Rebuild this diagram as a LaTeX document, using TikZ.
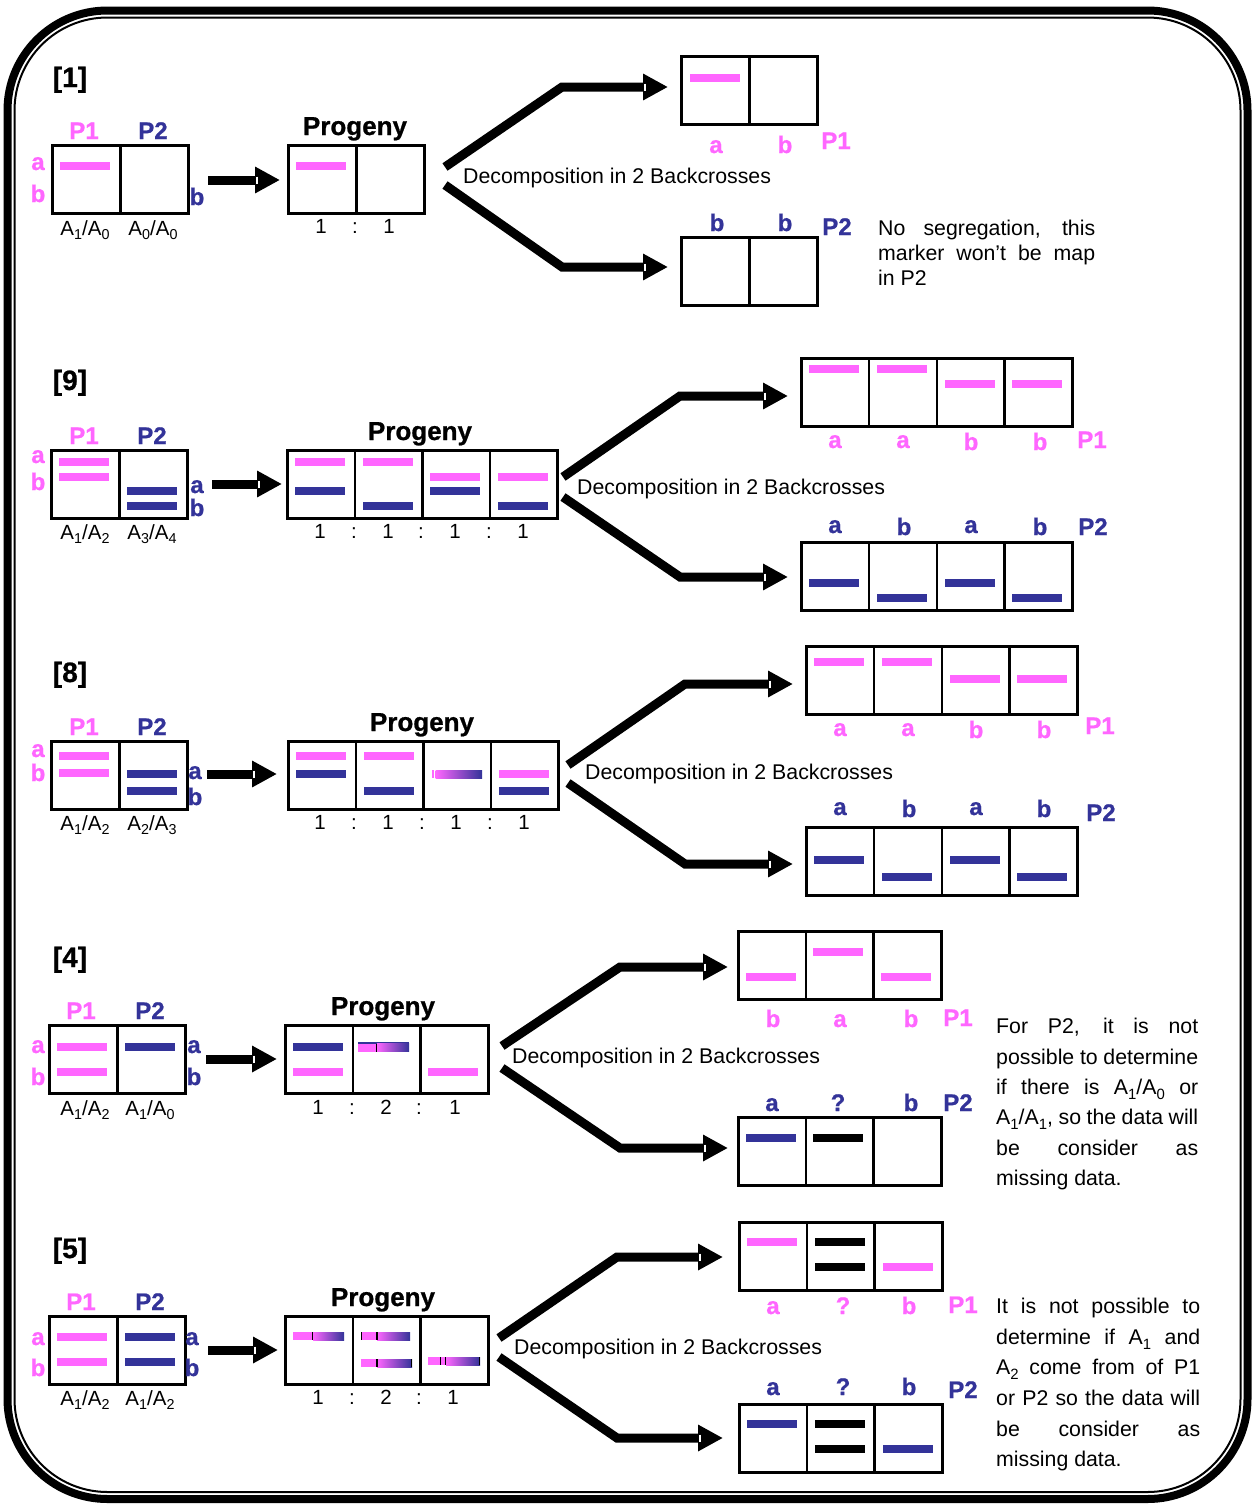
\documentclass[tikz,border=0pt]{standalone}
\usepackage{fontspec}
\setmainfont{Liberation Sans}[BoldFeatures={FakeBold=0.8}]
\usetikzlibrary{arrows.meta,calc}
\definecolor{mkpink}{RGB}{255,102,255}
\definecolor{mkblue}{RGB}{51,51,153}

\tikzset{
  cell/.style={draw, line width=2.6pt, minimum height=68pt, inner sep=0pt, anchor=north west},
  band/.style={line width=8pt},
  lbl/.style={font=\fontsize{24}{28}\selectfont\bfseries, anchor=base, inner sep=0pt},
  plbl/.style={lbl, text=mkpink},
  blbl/.style={lbl, text=mkblue},
  hdr/.style={font=\fontsize{28}{32}\selectfont\bfseries, anchor=base, inner sep=0pt},
  prg/.style={font=\fontsize{26}{30}\selectfont\bfseries, anchor=base, inner sep=0pt},
  gen/.style={font=\fontsize{20.5}{24}\selectfont, anchor=base, inner sep=0pt},
  txt/.style={font=\fontsize{21.3}{25}\selectfont, anchor=base west, inner sep=0pt},
  fat/.style={line width=9pt, -{Triangle[length=25pt,width=25pt]}},
}

% allele index set low, as in A1/A0
\newcommand\sbx[1]{\raisebox{-0.24em}{\fontsize{0.7em}{0.8em}\selectfont #1}}
% a row of n square cells: name, left x, top y, n, cell width
\newcommand\rowcells[5]{%
  \foreach \k in {1,...,#4}{\node[cell, minimum width=#5pt] (#1-\k) at ({#2+(\k-1)*#5},#3) {};}}
% marker band: colour, centre x, y
\newcommand\mbar[3]{\draw[band,#1] ({#2-25},#3) -- ({#2+25},#3);}
% graded band from pink to blue: left x, right x, y
\newcommand\gbar[3]{\shade[left color=mkpink, right color=mkblue] ({#1},{#3-4}) rectangle ({#2},{#3+4});}
% solid pink piece of a band: left x, right x, y
\newcommand\pbar[3]{\fill[mkpink] ({#1},{#3-4}) rectangle ({#2},{#3+4});}
% thin separator tick inside a band
\newcommand\btick[2]{\draw[line width=1.2pt] ({#1},{#2-4}) -- ({#1},{#2+4});}
% small light notch at the base of an arrow head: tip x, y
\newcommand\notch[2]{\draw[white, line width=1.4pt] ({#1-23},{#2-3.5}) -- ({#1-23},{#2+3.5});}

\begin{document}
\begin{tikzpicture}[x=1pt,y=-1pt]
\useasboundingbox (0,0) rectangle (1257,1510);
\fill[white] (0,0) rectangle (1257,1510);

% double rounded frame
\draw[line width=8pt, rounded corners=100pt] (7.5,10.5) rectangle (1247.5,1499);
\draw[line width=2pt, rounded corners=93pt] (14.5,17.5) rectangle (1240.5,1492);

% ===================== [1] =====================
\node[hdr] (h1) at (70,87) {[1]};
\rowcells{pa}{51}{144}{2}{68}
\node[plbl] (pa-l1) at (84,139) {P1};
\node[blbl] (pa-l2) at (153,139) {P2};
\node[plbl] (pa-a) at (38,170) {a};
\node[plbl] (pa-b) at (38,202) {b};
\node[blbl] (pa-b2) at (197,205) {b};
\mbar{mkpink}{85}{166}
\node[gen] (pa-g1) at (85,235) {A\sbx{1}/A\sbx{0}};
\node[gen] (pa-g2) at (153,235) {A\sbx{0}/A\sbx{0}};

\coordinate (ma-s) at (208,180); \coordinate (ma-t) at (280,180);
\draw[fat] (ma-s) -- (ma-t); \notch{280}{180}

\node[prg] (pra-t) at (355,135) {Progeny};
\rowcells{pra}{287}{144}{2}{68}
\mbar{mkpink}{321}{166}
\node[gen] (pra-r1) at (321,233) {1};
\node[gen] (pra-r2) at (355,233) {:};
\node[gen] (pra-r3) at (389,233) {1};

\rowcells{bua}{680}{55}{2}{68}
\rowcells{bda}{680}{236}{2}{68}
\mbar{mkpink}{715}{78}
\coordinate (ua-s) at (445,167); \coordinate (ua-c) at (562,87); \coordinate (ua-t) at (668,87);
\coordinate (da-s) at (445,185); \coordinate (da-c) at (562,267); \coordinate (da-t) at (668,267);
\draw[fat] (ua-s) -- (ua-c) -- (ua-t); \notch{668}{87}
\draw[fat] (da-s) -- (da-c) -- (da-t); \notch{668}{267}
\node[txt] (dca) at (463,183) {Decomposition in 2 Backcrosses};
\node[plbl] (bua-1) at (716,153) {a};
\node[plbl] (bua-2) at (785,153) {b};
\node[plbl] (bua-p) at (836,149) {P1};
\node[blbl] (bda-1) at (717,231) {b};
\node[blbl] (bda-2) at (785,231) {b};
\node[blbl] (bda-p) at (837,235) {P2};
\node[txt] (na-1) at (878,235) {\makebox[217pt][s]{No segregation, this}};
\node[txt] (na-2) at (878,260) {\makebox[217pt][s]{marker won’t be map}};
\node[txt] (na-3) at (878,285) {in P2};

% ===================== [9] =====================
\node[hdr] (h9) at (70,390) {[9]};
\rowcells{pb}{50}{449}{2}{68}
\node[plbl] (pb-l1) at (84,444) {P1};
\node[blbl] (pb-l2) at (152,444) {P2};
\node[plbl] (pb-a) at (38,463) {a};
\node[plbl] (pb-b) at (38,490) {b};
\node[blbl] (pb-a2) at (197,493) {a};
\node[blbl] (pb-b2) at (197,516) {b};
\mbar{mkpink}{84}{462} \mbar{mkpink}{84}{477}
\mbar{mkblue}{152}{491} \mbar{mkblue}{152}{506}
\node[gen] (pb-g1) at (85,539) {A\sbx{1}/A\sbx{2}};
\node[gen] (pb-g2) at (152,539) {A\sbx{3}/A\sbx{4}};

\coordinate (mb-s) at (212,484); \coordinate (mb-t) at (282,484);
\draw[fat] (mb-s) -- (mb-t); \notch{282}{484}

\node[prg] (prb-t) at (420,440) {Progeny};
\rowcells{prb}{286}{449}{4}{67.6}
\mbar{mkpink}{320}{462} \mbar{mkblue}{320}{491}
\mbar{mkpink}{388}{462} \mbar{mkblue}{388}{506}
\mbar{mkpink}{455}{477} \mbar{mkblue}{455}{491}
\mbar{mkpink}{523}{477} \mbar{mkblue}{523}{506}
\node[gen] (prb-r1) at (320,538) {1};
\node[gen] (prb-r2) at (354,538) {:};
\node[gen] (prb-r3) at (388,538) {1};
\node[gen] (prb-r4) at (421,538) {:};
\node[gen] (prb-r5) at (455,538) {1};
\node[gen] (prb-r6) at (489,538) {:};
\node[gen] (prb-r7) at (523,538) {1};

\rowcells{bub}{800}{357}{4}{67.8}
\rowcells{bdb}{800}{541}{4}{67.8}
\mbar{mkpink}{834}{369} \mbar{mkpink}{902}{369} \mbar{mkpink}{970}{384} \mbar{mkpink}{1037}{384}
\mbar{mkblue}{834}{583} \mbar{mkblue}{902}{598} \mbar{mkblue}{970}{583} \mbar{mkblue}{1037}{598}
\coordinate (ub-s) at (563,477); \coordinate (ub-c) at (680,396); \coordinate (ub-t) at (788,396);
\coordinate (db-s) at (563,497); \coordinate (db-c) at (680,577); \coordinate (db-t) at (788,577);
\draw[fat] (ub-s) -- (ub-c) -- (ub-t); \notch{788}{396}
\draw[fat] (db-s) -- (db-c) -- (db-t); \notch{788}{577}
\node[txt] (dcb) at (577,494) {Decomposition in 2 Backcrosses};
\node[plbl] (bub-1) at (835,448) {a};
\node[plbl] (bub-2) at (903,448) {a};
\node[plbl] (bub-3) at (971,450) {b};
\node[plbl] (bub-4) at (1040,450) {b};
\node[plbl] (bub-p) at (1092,448) {P1};
\node[blbl] (bdb-1) at (835,533) {a};
\node[blbl] (bdb-2) at (904,535) {b};
\node[blbl] (bdb-3) at (971,533) {a};
\node[blbl] (bdb-4) at (1040,535) {b};
\node[blbl] (bdb-p) at (1093,535) {P2};

% ===================== [8] =====================
\node[hdr] (h8) at (70,682) {[8]};
\rowcells{pc}{50}{740}{2}{68}
\node[plbl] (pc-l1) at (84,735) {P1};
\node[blbl] (pc-l2) at (152,735) {P2};
\node[plbl] (pc-a) at (38,757) {a};
\node[plbl] (pc-b) at (38,781) {b};
\node[blbl] (pc-a2) at (195,779) {a};
\node[blbl] (pc-b2) at (195,805) {b};
\mbar{mkpink}{84}{756} \mbar{mkpink}{84}{773}
\mbar{mkblue}{152}{774} \mbar{mkblue}{152}{791}
\node[gen] (pc-g1) at (85,830) {A\sbx{1}/A\sbx{2}};
\node[gen] (pc-g2) at (152,830) {A\sbx{2}/A\sbx{3}};

\coordinate (mc-s) at (207,774); \coordinate (mc-t) at (277,774);
\draw[fat] (mc-s) -- (mc-t); \notch{277}{774}

\node[prg] (prc-t) at (422,731) {Progeny};
\rowcells{prc}{287}{740}{4}{67.6}
\mbar{mkpink}{321}{756} \mbar{mkblue}{321}{774}
\mbar{mkpink}{389}{756} \mbar{mkblue}{389}{791}
\pbar{432}{434.3}{774} \gbar{435.7}{482}{774}
\mbar{mkpink}{524}{774} \mbar{mkblue}{524}{791}
\node[gen] (prc-r1) at (320,829) {1};
\node[gen] (prc-r2) at (354,829) {:};
\node[gen] (prc-r3) at (388,829) {1};
\node[gen] (prc-r4) at (422,829) {:};
\node[gen] (prc-r5) at (456,829) {1};
\node[gen] (prc-r6) at (490,829) {:};
\node[gen] (prc-r7) at (524,829) {1};

\rowcells{buc}{805}{645}{4}{67.8}
\rowcells{bdc}{805}{826}{4}{67.8}
\mbar{mkpink}{839}{662} \mbar{mkpink}{907}{662} \mbar{mkpink}{975}{679} \mbar{mkpink}{1042}{679}
\mbar{mkblue}{839}{860} \mbar{mkblue}{907}{877} \mbar{mkblue}{975}{860} \mbar{mkblue}{1042}{877}
\coordinate (uc-s) at (568,765); \coordinate (uc-c) at (685,684); \coordinate (uc-t) at (793,684);
\coordinate (dc-s) at (568,783); \coordinate (dc-c) at (685,864); \coordinate (dc-t) at (793,864);
\draw[fat] (uc-s) -- (uc-c) -- (uc-t); \notch{793}{684}
\draw[fat] (dc-s) -- (dc-c) -- (dc-t); \notch{793}{864}
\node[txt] (dcc) at (585,779) {Decomposition in 2 Backcrosses};
\node[plbl] (buc-1) at (840,736) {a};
\node[plbl] (buc-2) at (908,736) {a};
\node[plbl] (buc-3) at (976,738) {b};
\node[plbl] (buc-4) at (1044,738) {b};
\node[plbl] (buc-p) at (1100,734) {P1};
\node[blbl] (bdc-1) at (840,815) {a};
\node[blbl] (bdc-2) at (909,817) {b};
\node[blbl] (bdc-3) at (976,815) {a};
\node[blbl] (bdc-4) at (1044,817) {b};
\node[blbl] (bdc-p) at (1101,821) {P2};

% ===================== [4] =====================
\node[hdr] (h4) at (70,967) {[4]};
\rowcells{pd}{48}{1024}{2}{68}
\node[plbl] (pd-l1) at (81,1019) {P1};
\node[blbl] (pd-l2) at (150,1019) {P2};
\node[plbl] (pd-a) at (38,1053) {a};
\node[plbl] (pd-b) at (38,1085) {b};
\node[blbl] (pd-a2) at (194,1053) {a};
\node[blbl] (pd-b2) at (194,1085) {b};
\mbar{mkpink}{82}{1047} \mbar{mkpink}{82}{1072}
\mbar{mkblue}{150}{1047}
\node[gen] (pd-g1) at (85,1115) {A\sbx{1}/A\sbx{2}};
\node[gen] (pd-g2) at (150,1115) {A\sbx{1}/A\sbx{0}};

\coordinate (md-s) at (206,1059); \coordinate (md-t) at (277,1059);
\draw[fat] (md-s) -- (md-t); \notch{277}{1059}

\node[prg] (prd-t) at (383,1015) {Progeny};
\rowcells{prd}{284}{1024}{3}{67.7}
\mbar{mkblue}{318}{1047} \mbar{mkpink}{318}{1072}
\draw[mkblue, line width=1.2pt] (358,1043) -- (409,1043);
\pbar{358}{376}{1047.5} \gbar{377}{409}{1047.5} \btick{376.6}{1047.5}
\mbar{mkpink}{453}{1072}
\node[gen] (prd-r1) at (318,1114) {1};
\node[gen] (prd-r2) at (352,1114) {:};
\node[gen] (prd-r3) at (386,1114) {2};
\node[gen] (prd-r4) at (419,1114) {:};
\node[gen] (prd-r5) at (455,1114) {1};

\rowcells{bud}{737}{930}{3}{67.7}
\rowcells{bdd}{737}{1116}{3}{67.7}
\mbar{mkpink}{771}{977} \mbar{mkpink}{838}{952} \mbar{mkpink}{906}{977}
\mbar{mkblue}{771}{1138} \mbar{black}{838}{1138}
\coordinate (ud-s) at (502,1046); \coordinate (ud-c) at (620,967); \coordinate (ud-t) at (728,967);
\coordinate (dd-s) at (502,1068); \coordinate (dd-c) at (620,1148); \coordinate (dd-t) at (728,1148);
\draw[fat] (ud-s) -- (ud-c) -- (ud-t); \notch{728}{967}
\draw[fat] (dd-s) -- (dd-c) -- (dd-t); \notch{728}{1148}
\node[txt] (dcd) at (512,1063) {Decomposition in 2 Backcrosses};
\node[plbl] (bud-1) at (773,1027) {b};
\node[plbl] (bud-2) at (840,1027) {a};
\node[plbl] (bud-3) at (911,1027) {b};
\node[plbl] (bud-p) at (958,1026) {P1};
\node[blbl] (bdd-1) at (772,1111) {a};
\node[blbl] (bdd-2) at (838,1111) {?};
\node[blbl] (bdd-3) at (911,1111) {b};
\node[blbl] (bdd-p) at (958,1111) {P2};
\node[txt] (nd-1) at (996,1033) {\makebox[202pt][s]{For P2, it is not}};
\node[txt] (nd-2) at (996,1064) {\makebox[202pt][s]{possible to determine}};
\node[txt] (nd-3) at (996,1094) {\makebox[202pt][s]{if there is A\sbx{1}/A\sbx{0} or}};
\node[txt] (nd-4) at (996,1124) {\makebox[202pt][s]{A\sbx{1}/A\sbx{1}, so the data will}};
\node[txt] (nd-5) at (996,1155) {\makebox[202pt][s]{be consider as}};
\node[txt] (nd-6) at (996,1185) {missing data.};

% ===================== [5] =====================
\node[hdr] (h5) at (70,1258) {[5]};
\rowcells{pe}{48}{1315}{2}{68}
\node[plbl] (pe-l1) at (81,1310) {P1};
\node[blbl] (pe-l2) at (150,1310) {P2};
\node[plbl] (pe-a) at (38,1345) {a};
\node[plbl] (pe-b) at (38,1376) {b};
\node[blbl] (pe-a2) at (192,1345) {a};
\node[blbl] (pe-b2) at (192,1376) {b};
\mbar{mkpink}{82}{1337} \mbar{mkpink}{82}{1362}
\mbar{mkblue}{150}{1337} \mbar{mkblue}{150}{1362}
\node[gen] (pe-g1) at (85,1405) {A\sbx{1}/A\sbx{2}};
\node[gen] (pe-g2) at (150,1405) {A\sbx{1}/A\sbx{2}};

\coordinate (me-s) at (208,1350); \coordinate (me-t) at (278,1350);
\draw[fat] (me-s) -- (me-t); \notch{278}{1350}

\node[prg] (pre-t) at (383,1306) {Progeny};
\rowcells{pre}{284}{1315}{3}{67.7}
\pbar{293}{312}{1336} \gbar{313}{344}{1336} \btick{312.6}{1336}
\pbar{362}{376}{1336} \gbar{377}{410}{1336} \btick{361.6}{1336} \btick{377}{1336}
\pbar{361}{376}{1363} \gbar{377}{412}{1363} \btick{377}{1363} \btick{411.4}{1363}
\pbar{428}{446}{1361} \gbar{446}{480}{1361} \btick{440.5}{1361} \btick{445.8}{1361} \btick{479.4}{1361}
\node[gen] (pre-r1) at (318,1404) {1};
\node[gen] (pre-r2) at (352,1404) {:};
\node[gen] (pre-r3) at (386,1404) {2};
\node[gen] (pre-r4) at (419,1404) {:};
\node[gen] (pre-r5) at (453,1404) {1};

\rowcells{bue}{738}{1221}{3}{67.7}
\rowcells{bde}{738}{1403}{3}{67.7}
\mbar{mkpink}{772}{1242} \mbar{black}{840}{1242} \mbar{black}{840}{1267} \mbar{mkpink}{908}{1267}
\mbar{mkblue}{772}{1424} \mbar{black}{840}{1424} \mbar{black}{840}{1449} \mbar{mkblue}{908}{1449}
\coordinate (ue-s) at (499,1338); \coordinate (ue-c) at (617,1257); \coordinate (ue-t) at (723,1257);
\coordinate (de-s) at (499,1357); \coordinate (de-c) at (617,1438); \coordinate (de-t) at (723,1438);
\draw[fat] (ue-s) -- (ue-c) -- (ue-t); \notch{723}{1257}
\draw[fat] (de-s) -- (de-c) -- (de-t); \notch{723}{1438}
\node[txt] (dce) at (514,1354) {Decomposition in 2 Backcrosses};
\node[plbl] (bue-1) at (773,1314) {a};
\node[plbl] (bue-2) at (843,1314) {?};
\node[plbl] (bue-3) at (909,1314) {b};
\node[plbl] (bue-p) at (963,1313) {P1};
\node[blbl] (bde-1) at (773,1395) {a};
\node[blbl] (bde-2) at (843,1395) {?};
\node[blbl] (bde-3) at (909,1395) {b};
\node[blbl] (bde-p) at (963,1398) {P2};
\node[txt] (ne-1) at (996,1313) {\makebox[204pt][s]{It is not possible to}};
\node[txt] (ne-2) at (996,1344) {\makebox[204pt][s]{determine if A\sbx{1} and}};
\node[txt] (ne-3) at (996,1374) {\makebox[204pt][s]{A\sbx{2} come from of P1}};
\node[txt] (ne-4) at (996,1405) {\makebox[204pt][s]{or P2 so the data will}};
\node[txt] (ne-5) at (996,1436) {\makebox[204pt][s]{be consider as}};
\node[txt] (ne-6) at (996,1466) {missing data.};
\end{tikzpicture}
\end{document}
